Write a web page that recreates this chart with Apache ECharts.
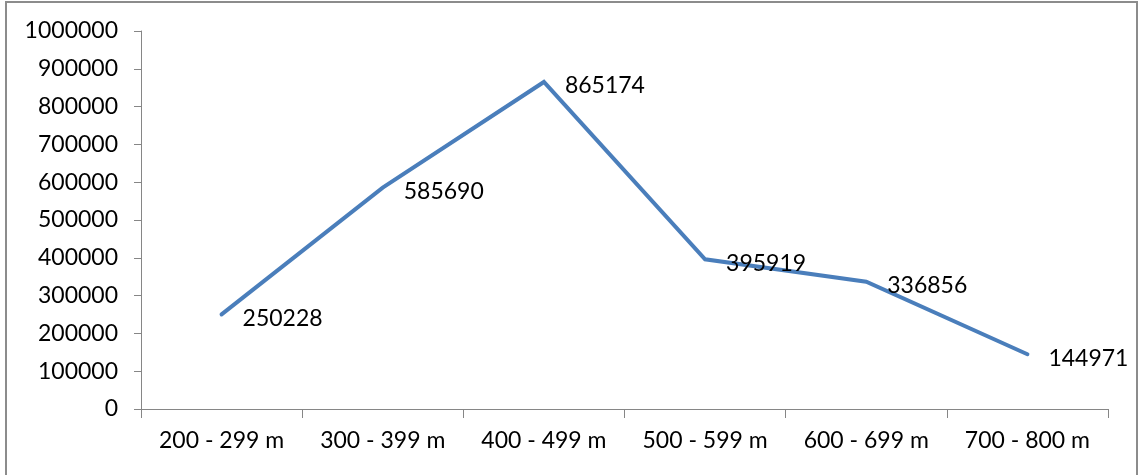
<!DOCTYPE html>
<html>
<head>
<meta charset="utf-8">
<script src="https://cdn.jsdelivr.net/npm/echarts@6/dist/echarts.min.js"></script>
<style>
  html, body { margin: 0; padding: 0; background: #fff; }
  #chart { width: 1145px; height: 475px; }
</style>
</head>
<body>
<div id="chart"></div>
<script>
// Altitude bands and the values recorded for each band
const categories = ['200 - 299 m', '300 - 399 m', '400 - 499 m', '500 - 599 m', '600 - 699 m', '700 - 800 m'];
const values = [250228, 585690, 865174, 395919, 336856, 144971];
const yMin = 0;
const yMax = 1000000;
const yStep = 100000;

const FONT = 'Lato, "Open Sans", sans-serif';
const FS = 23;
const chart = echarts.init(document.getElementById('chart'), null, { renderer: 'canvas' });

chart.setOption({
  animation: false,
  backgroundColor: '#ffffff',
  graphic: [{
    type: 'rect',
    shape: { x: 6, y: 2, width: 1131, height: 490 },
    style: { fill: 'none', stroke: '#8c8c8c', lineWidth: 2 },
    silent: true
  }],
  grid: { left: 141, top: 31, right: 37, bottom: 66 },
  xAxis: {
    type: 'category',
    data: categories,
    boundaryGap: true,
    axisLine: { lineStyle: { color: '#868686', width: 1 } },
    axisTick: { show: true, interval: 0, length: 9, lineStyle: { color: '#868686' } },
    axisLabel: { interval: 0, color: '#000', fontFamily: FONT, fontSize: FS, margin: 20 },
    splitLine: { show: false }
  },
  yAxis: {
    type: 'value',
    min: yMin,
    max: yMax,
    interval: yStep,
    axisLine: { show: true, lineStyle: { color: '#868686', width: 1 } },
    axisTick: { show: true, length: 7, lineStyle: { color: '#868686' } },
    axisLabel: {
      color: '#000', fontFamily: FONT, fontSize: FS, margin: 23,
      formatter: (v) => String(v)
    },
    splitLine: { show: false }
  },
  series: [{
    type: 'line',
    data: values,
    showSymbol: true,
    symbol: 'circle',
    symbolSize: 2,
    itemStyle: { color: 'rgba(0,0,0,0)', borderWidth: 0 },
    lineStyle: { color: '#4a7ebb', width: 4, cap: 'round', join: 'miter' },
    label: {
      show: true,
      position: [22, 5],
      align: 'left',
      verticalAlign: 'middle',
      color: '#000',
      opacity: 1,
      fontFamily: FONT,
      fontSize: FS,
      formatter: (p) => String(p.value)
    },
    labelLayout: { hideOverlap: false }
  }]
});
</script>
</body>
</html>
